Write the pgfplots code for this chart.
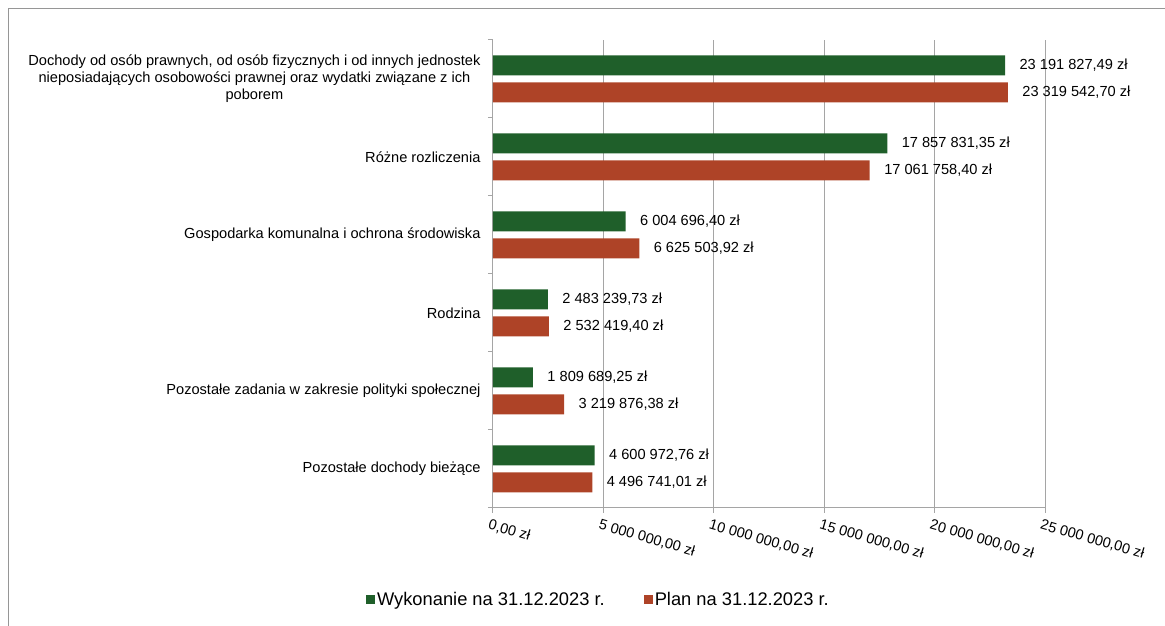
\documentclass[border=0pt]{standalone}
\usepackage{pgfplots}
\pgfplotsset{compat=1.18}
\usepackage{fontspec}
\setmainfont{Liberation Sans}

\definecolor{wyk}{RGB}{31,95,42}
\definecolor{plan}{RGB}{174,67,39}
\definecolor{gridc}{RGB}{165,165,165}
\definecolor{framec}{RGB}{150,150,150}

% y = category index, bottom (0) to top (5)
\pgfplotstableread{
x y label
23191827.49 5 {23 191 827,49 zł}
17857831.35 4 {17 857 831,35 zł}
6004696.40 3 {6 004 696,40 zł}
2483239.73 2 {2 483 239,73 zł}
1809689.25 1 {1 809 689,25 zł}
4600972.76 0 {4 600 972,76 zł}
}\wykonanie
\pgfplotstableread{
x y label
23319542.70 5 {23 319 542,70 zł}
17061758.40 4 {17 061 758,40 zł}
6625503.92 3 {6 625 503,92 zł}
2532419.40 2 {2 532 419,40 zł}
3219876.38 1 {3 219 876,38 zł}
4496741.01 0 {4 496 741,01 zł}
}\plan

\begin{document}
\begin{tikzpicture}
\useasboundingbox (0,0) rectangle (1165pt,626pt);
\draw[framec, line width=1pt] (8pt,0) -- (8pt,617pt) -- (1165pt,617pt);
\begin{axis}[
    at={(493pt,118pt)}, anchor=south west,
    scale only axis, width=552pt, height=468pt,
    xbar, bar width=20pt,
    xmin=0, xmax=25000000,
    ymin=-0.5, ymax=5.5,
    axis x line*=bottom, axis y line*=left,
    axis line style={gridc, line width=1pt, -},
    tick style={gridc, line width=1pt},
    tick align=outside, major tick length=5pt,
    xtick={0,5000000,10000000,15000000,20000000,25000000},
    scaled x ticks=false,
    xticklabels={{0,00 zł},{5 000 000,00 zł},{10 000 000,00 zł},{15 000 000,00 zł},{20 000 000,00 zł},{25 000 000,00 zł}},
    xticklabel style={rotate=-16, anchor=north west, font=\fontsize{14.5}{17}\selectfont, inner sep=0pt, xshift=-1pt, yshift=-6pt},
    xmajorgrids, grid style={gridc, line width=1pt},
    ytick={-0.5,0.5,1.5,2.5,3.5,4.5,5.5}, yticklabels={},
    extra y ticks={0,1,2,3,4,5},
    extra y tick labels={
        Pozostałe dochody bieżące,
        Pozostałe zadania w zakresie polityki społecznej,
        Rodzina,
        Gospodarka komunalna i ochrona środowiska,
        Różne rozliczenia,
        {Dochody od osób prawnych, od osób fizycznych i od innych jednostek\\nieposiadających osobowości prawnej oraz wydatki związane z ich\\poborem}},
    extra y tick style={major tick length=0pt},
    yticklabel style={align=center, font=\fontsize{14.6}{17}\selectfont, xshift=-9pt},
    clip=false,
    point meta=explicit symbolic,
    nodes near coords={\pgfplotspointmeta},
    every node near coord/.append style={anchor=west, font=\fontsize{14.6}{17}\selectfont, xshift=11pt},
    legend image code/.code={\fill[#1] (0pt,-4.5pt) rectangle (9pt,4.5pt);},
    legend style={draw=none, fill=none, font=\fontsize{18.3}{21}\selectfont,
        legend columns=2, at={(axis description cs:0.191,-0.195)}, anchor=center,
        /tikz/every even column/.append style={column sep=37pt},
        nodes={inner xsep=2pt}},
]
\addplot[fill=wyk, draw=none, bar shift=13.5pt] table[x=x, y=y, meta=label] {\wykonanie};
\addlegendentry{Wykonanie na 31.12.2023 r.}
\addplot[fill=plan, draw=none, bar shift=-13.5pt] table[x=x, y=y, meta=label] {\plan};
\addlegendentry{Plan na 31.12.2023 r.}
\end{axis}
\end{tikzpicture}
\end{document}
